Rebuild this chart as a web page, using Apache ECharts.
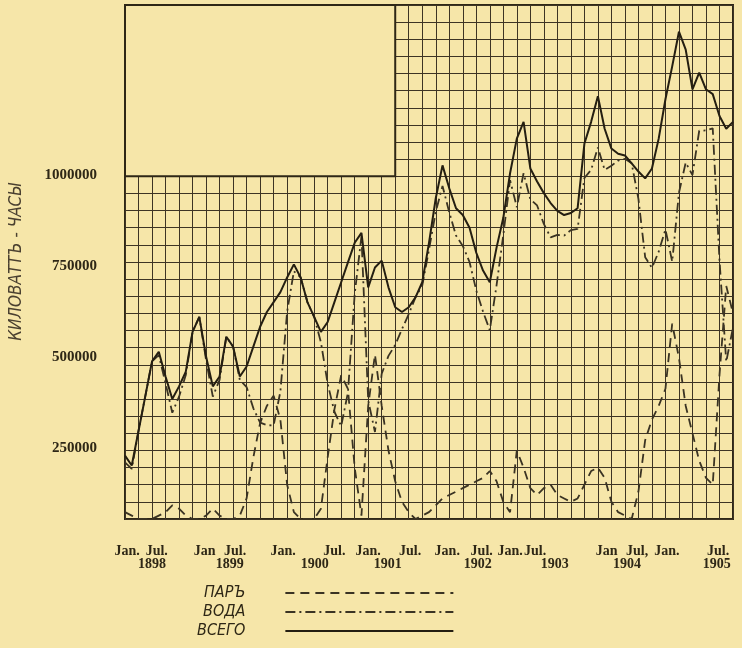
<!DOCTYPE html>
<html>
<head>
<meta charset="utf-8">
<script src="https://cdn.jsdelivr.net/npm/echarts@6/dist/echarts.min.js"></script>
<style>
html,body{margin:0;padding:0;background:#f6e6a9;}
#c{width:742px;height:648px;}
</style>
</head>
<body>
<div id="c"></div>
<script>
// Monthly output, Jan 1898 (index 0) .. Jul 1905 (index 90), kilowatt-hours
const totalKWh = [
  185000,156000,257000,358000,460000,488000,416000,350000,387000,430000,546000,590000,
  474000,387000,416000,532000,503000,416000,445000,503000,561000,604000,633000,662000,
  705000,743000,705000,633000,590000,546000,575000,633000,691000,749000,806000,835000,
  676000,734000,754000,676000,618000,604000,618000,647000,691000,806000,936000,1032000,
  965000,907000,887000,850000,777000,725000,691000,792000,879000,1009000,1110000,1159000,
  1023000,985000,951000,922000,899000,887000,893000,907000,1095000,1159000,1234000,1139000,
  1081000,1066000,1061000,1038000,1014000,994000,1023000,1110000,1225000,1321000,1422000,1370000,
  1254000,1303000,1254000,1240000,1176000,1139000,1159000
];
const steamKWh = [
  20000,10000,0,0,0,10000,20000,40000,30000,10000,0,0,
  10000,30000,10000,0,0,10000,60000,180000,280000,330000,360000,290000,
  100000,20000,0,0,0,30000,180000,320000,420000,380000,150000,10000,
  330000,480000,330000,200000,110000,50000,20000,0,10000,20000,40000,60000,
  70000,80000,90000,100000,110000,120000,140000,110000,50000,20000,200000,150000,
  90000,70000,90000,100000,70000,60000,50000,60000,100000,140000,150000,120000,
  50000,20000,10000,0,80000,230000,290000,330000,380000,570000,470000,330000,
  250000,170000,120000,100000,420000,680000,600000
];
const waterKWh = [
  165000,146000,257000,358000,460000,478000,396000,310000,357000,420000,546000,590000,
  464000,357000,406000,532000,503000,406000,385000,323000,281000,274000,273000,372000,
  605000,723000,705000,633000,590000,516000,395000,313000,271000,369000,656000,825000,
  346000,254000,424000,476000,508000,554000,598000,647000,681000,786000,896000,972000,
  895000,827000,797000,750000,667000,605000,551000,682000,829000,989000,910000,1009000,
  933000,915000,861000,822000,829000,827000,843000,847000,995000,1019000,1084000,1019000,
  1031000,1046000,1051000,1038000,934000,764000,733000,780000,845000,751000,952000,1040000,
  1004000,1133000,1134000,1140000,756000,459000,559000
];
// Tick labels (positions in months from Jan 1898)
const monthTickPos  = [0.3, 4.7, 11.8, 16.3, 23.4, 31.0, 36.0, 42.2, 47.7, 52.8, 57.0, 60.7, 71.3, 75.8, 80.2, 87.8];
const monthTickText = ['Jan.','Jul.','Jan','Jul.','Jan.','Jul.','Jan.','Jul.','Jan.','Jul.','Jan.','Jul.','Jan','Jul,','Jan.','Jul.'];
const yearTickPos   = [4.0, 15.5, 28.1, 38.9, 52.2, 63.6, 74.3, 87.6];
const yearTickText  = ['1898','1899','1900','1901','1902','1903','1904','1905'];
const yTickValues   = [250000, 500000, 750000, 1000000];
const seriesNames   = ['ПАРЪ', 'ВОДА', 'ВСЕГО'];
const yTitle = 'КИЛОВАТТЪ - ЧАСЫ';

const bg = '#f6e6a9';
const ink = '#2e2716';
const gridInk = '#3d3424';
const lineInk = '#3a3323';
const toXY = arr => arr.map((v, i) => [i, v]);

const chart = echarts.init(document.getElementById('c'), null, {renderer: 'canvas'});
chart.setOption({
  backgroundColor: bg,
  animation: false,
  grid: {left: 125, top: 5, right: 9, bottom: 129, show: true, borderColor: ink, borderWidth: 2,
         backgroundColor: 'transparent', containLabel: false, outerBoundsMode: 'none'},
  xAxis: [
    {type: 'value', min: 0, max: 90, interval: 2, position: 'top',
     axisLine: {show: false}, axisTick: {show: false}, axisLabel: {show: false},
     splitLine: {show: true, lineStyle: {color: gridInk, width: 1}}},
    {type: 'value', min: 0, max: 90, position: 'bottom',
     axisLine: {show: false}, axisTick: {show: false}, splitLine: {show: false},
     axisLabel: {
       show: true, customValues: monthTickPos.concat(yearTickPos), hideOverlap: false,
       margin: 26, fontFamily: 'Liberation Serif', fontWeight: 'bold', fontSize: 14, lineHeight: 13, color: ink,
       formatter: function (v) {
         const i = monthTickPos.indexOf(v);
         if (i >= 0) return monthTickText[i];
         const j = yearTickPos.indexOf(v);
         return j >= 0 ? '\n' + yearTickText[j] : '';
       }
     }}
  ],
  yAxis: [
    {type: 'value', min: 0, max: 1500000, interval: 50000, position: 'right',
     axisLine: {show: false}, axisTick: {show: false}, axisLabel: {show: false},
     splitLine: {show: true, lineStyle: {color: gridInk, width: 1}}},
    {type: 'value', min: 55000, max: 1467000, position: 'left',
     axisLine: {show: false}, axisTick: {show: false}, splitLine: {show: false},
     axisLabel: {customValues: yTickValues, margin: 28, fontFamily: 'Liberation Serif', fontWeight: 'bold', fontSize: 15, color: ink,
       formatter: function (v) { return String(v); }},
     name: yTitle, nameLocation: 'middle', nameGap: 100,
     nameTextStyle: {fontFamily: 'Liberation Sans Narrow, DejaVu Sans Condensed, Liberation Sans', fontStyle: 'italic', fontSize: 17, color: '#4a4030'}}
  ],
  legend: {
    orient: 'vertical', left: 192, top: 580, align: 'right',
    itemWidth: 168, itemHeight: 14, itemGap: 3,
    data: seriesNames,
    itemStyle: {opacity: 0},
    textStyle: {fontFamily: 'Liberation Sans Narrow, DejaVu Sans Condensed, Liberation Sans', fontStyle: 'italic', fontSize: 16, lineHeight: 16, color: ink, padding: [0, 35, 0, 0]}
  },
  series: [
    {name: seriesNames[0], type: 'line', data: toXY(steamKWh), symbol: 'none', z: 3,
     itemStyle: {color: lineInk},
     lineStyle: {color: lineInk, width: 1.8, type: [9, 6]},
     markArea: {silent: true, itemStyle: {color: bg, borderColor: ink, borderWidth: 2},
       data: [[{coord: [0, 1000000]}, {coord: [40, 1500000]}]]}},
    {name: seriesNames[1], type: 'line', data: toXY(waterKWh), symbol: 'none', z: 3,
     itemStyle: {color: lineInk},
     lineStyle: {color: lineInk, width: 1.8, type: [10, 4, 2, 4]}},
    {name: seriesNames[2], type: 'line', data: toXY(totalKWh), symbol: 'none', z: 4,
     itemStyle: {color: '#241e11'},
     lineStyle: {color: '#241e11', width: 2, type: 'solid'}}
  ]
});
</script>
</body>
</html>
